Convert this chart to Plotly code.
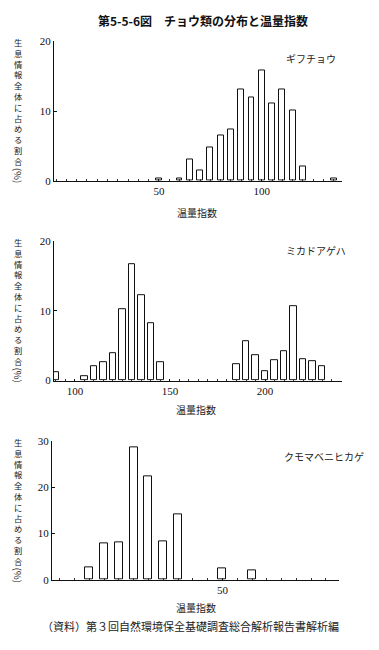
import plotly.graph_objects as go

# ---- data ----
gifu_x = [50, 60, 65, 70, 75, 80, 85, 90, 95, 100, 105, 110, 115, 120, 135]
gifu_y = [0.4, 0.4, 3.1, 1.5, 4.8, 6.5, 7.3, 13.1, 12.0, 15.8, 11.1, 13.1, 10.1, 2.1, 0.3]

mikado_x = [90, 105, 110, 115, 120, 125, 130, 135, 140, 145,
            185, 190, 195, 200, 205, 210, 215, 220, 225, 230]
mikado_y = [1.2, 0.6, 2.0, 2.7, 3.9, 10.3, 16.7, 12.2, 8.3, 2.6,
            2.3, 5.7, 3.6, 1.4, 2.9, 4.2, 10.6, 3.0, 2.8, 2.1]

kumoma_x = [5, 10, 15, 20, 25, 30, 35, 50, 60]
kumoma_y = [2.6, 7.8, 8.0, 28.7, 22.4, 8.4, 14.1, 2.4, 2.0]

species = ["ギフチョウ", "ミカドアゲハ", "クモマベニヒカゲ"]
title_text = "第5-5-6図　チョウ類の分布と温量指数"
x_title = "温量指数"
y_title_chars = "生息情報全体に占める割合"
y_title_unit = "(%)"
source_text = "（資料）第３回自然環境保全基礎調査総合解析報告書解析編"

# page body has an 8px margin; size the figure to fill the rest of the window
OFF = 8
W, H = 379 - OFF, 650 - OFF
JP = "Noto Sans CJK JP"
SERIF = "Liberation Serif"


def px(x):
    return (x - OFF) / W


def py(y):
    return 1 - (y - OFF) / H


panels = [
    dict(x=gifu_x, y=gifu_y, x0=54, x1=342, yt=36, yb=178, xr=[-1, 139], yr=[0, 20],
         xt=[50, 100], ytv=[0, 10, 20], w=2.9, name=species[0], lab=(311, 53), xt_pos=(197, 210)),
    dict(x=mikado_x, y=mikado_y, x0=54, x1=342, yt=239.5, yb=381.5, xr=[89, 240.5], yr=[0, 20],
         xt=[100, 150, 200], ytv=[0, 10, 20], w=3.3, name=species[1], lab=(316, 249), xt_pos=(196, 411)),
    dict(x=kumoma_x, y=kumoma_y, x0=52, x1=339, yt=443.5, yb=584.5, xr=[-7.6, 89.4], yr=[0, 30],
         xt=[50], ytv=[0, 10, 20, 30], w=2.7, name=species[2], lab=(324, 459), xt_pos=(196, 613)),
]

fig = go.Figure()
annotations = []
layout = {}

for i, p in enumerate(panels, start=1):
    sfx = "" if i == 1 else str(i)
    fig.add_trace(go.Bar(
        x=p["x"], y=p["y"], width=p["w"],
        marker=dict(color="white", line=dict(color="#111", width=1)),
        xaxis="x" + sfx, yaxis="y" + sfx, hoverinfo="x+y",
    ))
    layout["xaxis" + sfx] = dict(
        domain=[px(p["x0"]), px(p["x1"])], range=p["xr"], anchor="y" + sfx,
        showline=True, linecolor="#111", linewidth=1, showgrid=False, zeroline=False,
        tickvals=p["xt"], ticks="inside", ticklen=2, tickcolor="#111",
        minor=dict(dtick=5, tick0=0, ticks="inside", ticklen=2, tickcolor="#333"),
        tickfont=dict(family=SERIF, size=11, color="#111"),
    )
    layout["yaxis" + sfx] = dict(
        domain=[py(p["yb"]), py(p["yt"])], range=p["yr"], anchor="x" + sfx,
        showline=True, linecolor="#111", linewidth=1, showgrid=False, zeroline=False,
        tickvals=p["ytv"], ticks="inside", ticklen=3, tickcolor="#111",
        tickfont=dict(family=SERIF, size=11, color="#111"),
    )
    # species label
    annotations.append(dict(
        text=p["name"], x=px(p["lab"][0]), y=py(p["lab"][1]), xref="paper", yref="paper",
        showarrow=False, xanchor="center", yanchor="middle",
        font=dict(family=JP, size=10, color="#222"),
    ))
    # x title
    annotations.append(dict(
        text=x_title, x=px(p["xt_pos"][0]), y=py(p["xt_pos"][1]), xref="paper", yref="paper",
        showarrow=False, xanchor="center", yanchor="middle",
        font=dict(family=JP, size=10, color="#222"),
    ))
    # vertical y title: upright characters stacked, unit rotated
    first = p["yt"] + 4
    annotations.append(dict(
        text="<br>".join(y_title_chars), x=px(18), y=py(first + 57), xref="paper", yref="paper",
        showarrow=False, xanchor="center", yanchor="middle",
        font=dict(family=JP, size=8.3, color="#222"),
    ))
    annotations.append(dict(
        text=y_title_unit, x=px(18), y=py(first + 132), xref="paper", yref="paper",
        showarrow=False, xanchor="center", yanchor="middle", textangle=90,
        font=dict(family=JP, size=9.5, color="#222"),
    ))

annotations.append(dict(
    text="<b>" + title_text + "</b>", x=px(203), y=py(15), xref="paper", yref="paper",
    showarrow=False, xanchor="center", yanchor="middle",
    font=dict(family=JP, size=12, color="#111"),
))
annotations.append(dict(
    text=source_text, x=px(190), y=py(632), xref="paper", yref="paper",
    showarrow=False, xanchor="center", yanchor="middle",
    font=dict(family=JP, size=11, color="#222"),
))

fig.update_layout(
    width=W, height=H, margin=dict(l=0, r=0, t=0, b=0),
    paper_bgcolor="white", plot_bgcolor="white", showlegend=False,
    annotations=annotations, bargap=0, **layout,
)

fig.write_html("out.html")
